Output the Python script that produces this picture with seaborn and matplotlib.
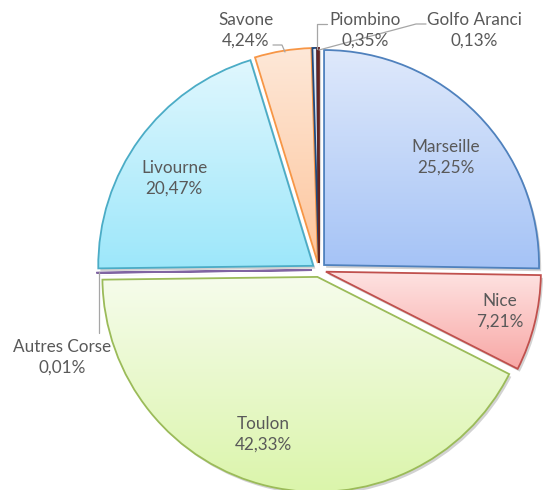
import numpy as np
import matplotlib
matplotlib.use("Agg")
import matplotlib.pyplot as plt
import matplotlib.patheffects as pe
from matplotlib.patches import PathPatch
import seaborn as sns

# data, clockwise from 12 o'clock
ports = ["Marseille", "Nice", "Toulon", "Autres Corse", "Livourne",
         "Savone", "Piombino", "Golfo Aranci"]
shares = [25.25, 7.21, 42.33, 0.01, 20.47, 4.24, 0.35, 0.13]
share_labels = ["25,25%", "7,21%", "42,33%", "0,01%", "20,47%",
                "4,24%", "0,35%", "0,13%"]

# style: (top colour, bottom colour, edge colour)
styles = [
    ("#dfe9fb", "#a5c3f6", "#4f81bd"),
    ("#fee3e2", "#f8a7a5", "#c0504d"),
    ("#f6fcec", "#dbf5ab", "#9bbb59"),
    ("#c9bbdc", "#8064a2", "#8064a2"),
    ("#e0f7fe", "#9de7fa", "#4bacc6"),
    ("#fee8d8", "#fdc59c", "#f79646"),
    ("#e6eef8", "#c6d8ee", "#1f497d"),
    ("#9a3a37", "#7a2b29", "#632523"),
]

# label centres in pixels (x, y from top) and leader lines
W, H = 547, 490
CX, CY, R = 319, 270, 215
label_px = [(446, 157), (500, 311), (263, 434), (62, 357),
            (174, 178), (246, 30), (365, 30), (474, 30)]
leaders = {
    "Savone": [(273, 45), (282, 45), (285, 52)],
    "Piombino": [(317, 49), (317, 24), (327, 24)],
    "Golfo Aranci": [(319, 50), (416, 24), (426, 24)],
    "Autres Corse": [(99, 272), (99, 333)],
}


def to_data(px, py):
    return (px - CX) / R, (CY - py) / R


sns.set_style("white")
plt.rcParams["font.family"] = ["Lato", "DejaVu Sans"]

fig = plt.figure(figsize=(W / 100, H / 100), dpi=100)
ax = fig.add_axes([0, 0, 1, 1])

wedges, _ = ax.pie(shares, startangle=90, counterclock=False,
                   explode=[0.033] * len(shares),
                   colors=["white"] * len(shares),
                   wedgeprops=dict(linewidth=0, zorder=1))

for w, (top, bottom, edge) in zip(wedges, styles):
    w.set_path_effects([pe.SimplePatchShadow(offset=(1.5, -2), shadow_rgbFace="#7f7f7f", alpha=0.35),
                        pe.Normal()])
    ext = w.get_path().get_extents()
    cmap = sns.blend_palette([top, bottom], as_cmap=True)
    grad = np.linspace(0, 1, 256).reshape(-1, 1)
    im = ax.imshow(grad, cmap=cmap, extent=[ext.x0, ext.x1, ext.y0, ext.y1],
                   origin="upper", aspect="auto", zorder=2)
    im.set_clip_path(w)
    ax.add_patch(PathPatch(w.get_path(), facecolor="none", edgecolor=edge,
                           linewidth=1.3, joinstyle="miter", zorder=3))

txt_color = "#595959"
for name, pct, (px, py) in zip(ports, share_labels, label_px):
    x, y = to_data(px, py)
    ax.text(x, y, f"{name}\n{pct}", ha="center", va="center",
            fontsize=12.3, color=txt_color, linespacing=1.38, zorder=5)

for name, pts in leaders.items():
    xy = np.array([to_data(*p) for p in pts])
    ax.plot(xy[:, 0], xy[:, 1], color="#a6a6a6", linewidth=0.9, zorder=4)

ax.set_xlim(-CX / R, (W - CX) / R)
ax.set_ylim(-(H - CY) / R, CY / R)
ax.set_aspect("auto")
ax.axis("off")

fig.savefig("out.png", dpi=100, facecolor="white")
